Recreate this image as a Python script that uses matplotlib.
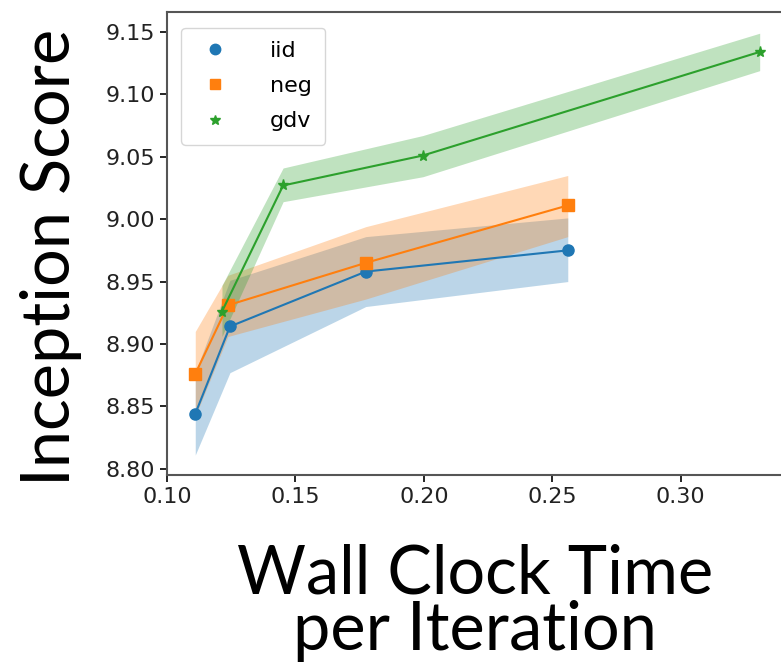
import matplotlib.pyplot as plt
from matplotlib.lines import Line2D

# wall clock time per iteration and inception score (mean, band low, band high)
iid_t = [0.111, 0.1245, 0.1774, 0.256]
iid_s = [8.844, 8.914, 8.958, 8.975]
iid_lo = [8.811, 8.877, 8.930, 8.950]
iid_hi = [8.877, 8.951, 8.986, 9.001]

neg_t = [0.111, 0.1237, 0.1774, 0.256]
neg_s = [8.876, 8.931, 8.965, 9.011]
neg_lo = [8.842, 8.906, 8.936, 8.986]
neg_hi = [8.910, 8.955, 8.994, 9.035]

gdv_t = [0.1214, 0.1452, 0.1996, 0.3307]
gdv_s = [8.926, 9.027, 9.051, 9.134]
gdv_lo = [8.906, 9.014, 9.034, 9.119]
gdv_hi = [8.947, 9.041, 9.067, 9.149]


def main():
    fig = plt.figure(figsize=(7.81, 6.64), dpi=100)
    ax = fig.add_axes([167 / 781, 189 / 664, 614 / 781, 463 / 664])

    series = [
        ('iid', 'o', 'tab:blue', iid_t, iid_s, iid_lo, iid_hi),
        ('neg', 's', 'tab:orange', neg_t, neg_s, neg_lo, neg_hi),
        ('gdv', '*', 'tab:green', gdv_t, gdv_s, gdv_lo, gdv_hi),
    ]
    handles = []
    for name, mk, col, t, s, lo, hi in series:
        ax.plot(t, s, color=col, marker=mk, markersize=8, linewidth=1.5)
        ax.fill_between(t, lo, hi, color=col, alpha=0.3, linewidth=0)
        handles.append(Line2D([], [], color=col, marker=mk, linestyle='none',
                              markersize=7.5, label=name))

    ax.set_xlim(0.10, 0.339)
    ax.set_ylim(8.795, 9.166)
    ax.set_xticks([0.10, 0.15, 0.20, 0.25, 0.30])
    ax.set_yticks([8.80, 8.85, 8.90, 8.95, 9.00, 9.05, 9.10, 9.15])
    ax.tick_params(labelsize=16, length=5, width=1.2, labelcolor='#222222')
    for sp in ax.spines.values():
        sp.set_linewidth(1.5)
        sp.set_color('#555555')
    ax.spines['right'].set_visible(False)

    leg = ax.legend(handles=handles, loc='upper left', fontsize=16,
                    handletextpad=1.6, borderpad=0.6, labelspacing=0.68,
                    handlelength=1.8, bbox_to_anchor=(0.005, 0.99))
    leg.get_frame().set_linewidth(1.0)

    fig.text(70 / 781, 1 - 257 / 664, 'Inception Score', rotation=90,
             rotation_mode='anchor', ha='center', va='baseline',
             fontsize=48, family='Lato')
    fig.text(475 / 781, 1 - 593 / 664, 'Wall Clock Time', ha='center',
             va='baseline', fontsize=48, family='Lato')
    fig.text(475 / 781, 1 - 650 / 664, 'per Iteration', ha='center',
             va='baseline', fontsize=48, family='Lato')

    fig.savefig('out.png', dpi=100)


if __name__ == '__main__':
    main()
